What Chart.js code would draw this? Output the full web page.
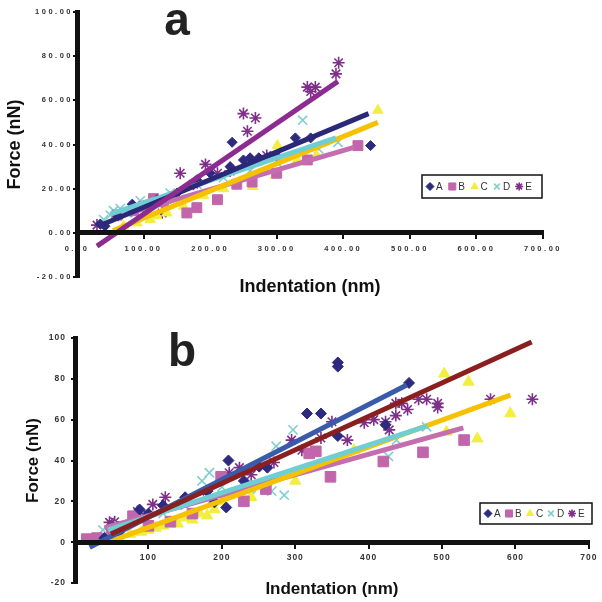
<!DOCTYPE html>
<html>
<head>
<meta charset="utf-8">
<script src="https://cdn.jsdelivr.net/npm/chart.js@4.4.0/dist/chart.umd.min.js"></script>
<style>
  html, body { margin: 0; padding: 0; background: #fff; }
  canvas { display: block; }
</style>
</head>
<body>
<canvas id="chartA" width="602" height="301"></canvas>
<canvas id="chartB" width="602" height="301"></canvas>
<script>
// ---- panel a : indentation (nm) / force (nN) ----
var aIndA = [35, 42, 60, 83, 100, 120, 150, 180, 200, 230, 233, 250, 260, 273, 286, 300, 328, 351, 441];
var aForA = [4, 3, 8, 13, 12, 15, 18, 24, 27, 30, 41, 33, 34, 34, 34, 35, 43, 43, 39.5];
var aIndB = [60, 85, 100, 115, 130, 165, 180, 211, 240, 263, 300, 346, 422];
var aForB = [8, 10, 12, 15.5, 14, 9, 11.4, 15, 22, 23, 27, 33, 39.5];
var aIndC = [70, 90, 110, 120, 135, 160, 190, 220, 264, 298, 301, 331, 360, 452];
var aForC = [3, 4.5, 6, 7.7, 9, 12, 17, 20, 21, 26, 39.5, 33, 35, 55.5];
var aIndD = [40, 50, 55, 65, 75, 95, 110, 140, 180, 220, 260, 300, 339, 363, 392];
var aForD = [6, 8, 10, 11, 9, 14.5, 13, 18, 22, 25, 28, 32, 51, 38, 41];
var aIndE = [30, 62, 82, 100, 115, 128, 140, 155, 175, 193, 211, 230, 250, 256, 268, 285, 346, 351, 358, 389, 393];
var aForE = [3.5, 8, 10, 12, 14, 9, 16, 27, 22, 31, 27, 28, 54, 46, 52, 35, 66, 64, 66, 72, 77];

// trend lines a (end points)
var aFitIndA = [40, 438], aFitForA = [4, 54];
var aFitIndB = [80, 416], aFitForB = [9, 38.7];
var aFitIndC = [54, 452], aFitForC = [1, 50];
var aFitIndD = [50, 389], aFitForD = [8.5, 43];
var aFitIndE = [30, 392], aFitForE = [-6, 68.6];

// ---- panel b ----
var bIndA = [40, 60, 88, 100, 120, 150, 180, 190, 206, 209, 230, 251, 262, 316, 335, 358, 358, 358, 423, 455];
var bForA = [2, 5, 16, 14, 18, 22, 25, 19.5, 17, 40, 30, 37, 36.5, 63, 63, 88, 86, 52, 57.5, 78];
var bIndB = [16, 30, 50, 79, 100, 130, 160, 199, 230, 260, 319, 328, 348, 420, 474, 530];
var bForB = [1.5, 2, 5, 12.7, 8, 10, 14, 32, 20, 26, 43.5, 44.5, 32, 39.5, 44, 50];
var bIndC = [60, 75, 90, 100, 110, 120, 130, 140, 150, 160, 170, 180, 190, 200, 240, 300, 380, 506, 503, 536, 548, 593];
var bForC = [2, 4, 5, 6, 7, 8, 10, 9, 12, 11, 14, 13, 16, 20, 22, 30, 45, 54, 82.5, 78.5, 50.7, 63];
var bIndD = [38, 60, 90, 120, 150, 173, 183, 200, 240, 268, 274, 285, 297, 427, 438, 479];
var bForD = [6, 8, 12, 14, 18, 30, 34, 27, 23, 25, 47, 23, 55, 42, 50, 56.5];
var bIndE = [47, 54, 85, 95, 106, 123, 150, 180, 210, 224, 240, 271, 295, 309, 335, 350, 371, 394, 407, 423, 428, 437, 437, 445, 453, 468, 479, 494, 494, 566, 623];
var bForE = [9.7, 10, 15, 12.7, 18.5, 22, 20, 25, 34, 36.5, 33, 39, 50, 45, 51, 59, 50, 58.5, 60, 59, 55, 62, 68, 68, 65, 70, 70, 68, 66, 70, 70];

var bFitIndA = [20, 452], bFitForA = [-2.5, 77];
var bFitIndB = [40, 529], bFitForB = [7, 56];
var bFitIndC = [49, 593], bFitForC = [0.5, 72];
var bFitIndD = [45, 480], bFitForD = [6, 57];
var bFitIndE = [49, 622], bFitForE = [4, 98];

var seriesNames = ['A', 'B', 'C', 'D', 'E'];
var xTicks = [0, 700, 100];
var yTicks = [-20, 100, 20];

var FONT = "'Liberation Sans', Arial, sans-serif";

function pts(xs, ys) {
    return xs.map(function(x, i) { return {x: x, y: ys[i]}; });
}

function scatterSet(label, xs, ys, style, color, radius) {
    var thin = (style === 'crossRot' || style === 'star');
    return {
        label: label,
        data: pts(xs, ys),
        showLine: false,
        pointStyle: style,
        pointRadius: radius,
        backgroundColor: color,
        borderColor: color,
        borderWidth: thin ? 1.6 : 1,
        order: 2
    };
}

function trendSet(xs, ys, color) {
    return {
        label: '',
        data: pts(xs, ys),
        showLine: true,
        pointRadius: 0,
        borderColor: color,
        backgroundColor: color,
        borderWidth: 5,
        order: 1
    };
}

// panel letter, legend box and spaced tick labels
var figurePlugin = {
    id: 'figure',
    afterDatasetsDraw: function(chart, args, opts) {
        chart.ctx.letterSpacing = opts.tickSpacing;
    },
    afterDraw: function(chart, args, opts) {
        var ctx = chart.ctx;
        ctx.letterSpacing = '0px';
        ctx.save();
        ctx.font = 'bold ' + opts.letterSize + 'px ' + FONT;
        ctx.fillStyle = '#222';
        ctx.textAlign = 'center';
        ctx.textBaseline = 'alphabetic';
        ctx.fillText(opts.letter, opts.letterX, opts.letterY);

        var lg = opts.legend;
        ctx.lineWidth = 1.5;
        ctx.strokeStyle = '#111';
        ctx.strokeRect(lg.x, lg.y, lg.w, lg.h);
        ctx.font = lg.fontSize + 'px ' + FONT;
        ctx.textAlign = 'left';
        ctx.textBaseline = 'middle';
        var sets = chart.data.datasets.filter(function(d) { return d.label; });
        sets.forEach(function(d, i) {
            var cx = lg.x + lg.first + i * lg.step;
            var cy = lg.y + lg.h / 2;
            ctx.fillStyle = d.backgroundColor;
            ctx.strokeStyle = d.borderColor;
            ctx.lineWidth = d.borderWidth;
            Chart.helpers.drawPoint(ctx, {
                pointStyle: d.pointStyle,
                radius: d.pointStyle === 'rect' ? lg.radius + 1 : lg.radius,
                rotation: 0,
                borderWidth: d.borderWidth
            }, cx, cy);
            ctx.fillStyle = '#333';
            ctx.fillText(d.label, cx + lg.radius + 2, cy + 0.5);
        });
        ctx.restore();
    }
};

function makeChart(id, cfg) {
    return new Chart(document.getElementById(id), {
        type: 'scatter',
        data: {datasets: cfg.datasets},
        options: {
            responsive: false,
            animation: false,
            layout: {padding: cfg.padding},
            plugins: {
                legend: {display: false},
                tooltip: {enabled: false},
                figure: cfg.figure
            },
            scales: {
                x: {
                    type: 'linear',
                    min: xTicks[0], max: xTicks[1],
                    position: {y: 0},
                    grid: {display: true, drawOnChartArea: false, drawTicks: true, tickLength: 4, color: '#111', lineWidth: 2, z: 0},
                    border: {display: true, color: '#111', width: 5, z: 2},
                    ticks: {
                        stepSize: xTicks[2], color: '#333', padding: cfg.xPad, z: 1,
                        font: {family: FONT, size: cfg.tickSize, weight: 'bold'},
                        maxRotation: 0, autoSkip: false,
                        callback: cfg.xFormat
                    },
                    title: {
                        display: true, text: 'Indentation (nm)', color: '#111',
                        font: {family: FONT, size: cfg.titleSize, weight: 'bold'},
                        padding: {top: cfg.xTitleTop, bottom: 0}
                    }
                },
                y: {
                    type: 'linear',
                    min: yTicks[0], max: yTicks[1],
                    grid: {display: true, drawOnChartArea: false, drawTicks: true, tickLength: 4, color: '#111', lineWidth: 2, z: 0},
                    border: {display: true, color: '#111', width: 5, z: 2},
                    ticks: {
                        stepSize: yTicks[2], color: '#333', padding: cfg.yPad, z: 1,
                        font: {family: FONT, size: cfg.tickSize, weight: 'bold'},
                        callback: cfg.yFormat
                    },
                    title: {
                        display: true, text: 'Force (nN)', color: '#111',
                        font: {family: FONT, size: cfg.titleSize, weight: 'bold'},
                        padding: {top: cfg.yTitleTop, bottom: 0}
                    },
                    afterFit: function(scale) { scale.width = cfg.yWidth; }
                }
            }
        },
        plugins: [figurePlugin]
    });
}

var cNavy = '#2D2A7F', cPink = '#C266AC', cYellow = '#F2EE3E', cCyan = '#80CFD0', cPurple = '#7E2F88';

makeChart('chartA', {
    padding: {top: 12, right: 59, bottom: 24, left: 0},
    yWidth: 77, tickSize: 7.5, titleSize: 18,
    xPad: 8, yPad: 0, xTitleTop: 14, yTitleTop: 4,
    xFormat: function(v) { return v.toFixed(2); },
    yFormat: function(v) { return v.toFixed(2); },
    figure: {
        tickSpacing: '2.5px', letter: 'a', letterSize: 46, letterX: 177, letterY: 35,
        legend: {x: 422, y: 175, w: 120, h: 23, first: 8, step: 22.3, radius: 4, fontSize: 10}
    },
    datasets: [
        trendSet(aFitIndE, aFitForE, '#8C2C91'),
        trendSet(aFitIndA, aFitForA, '#2B2877'),
        trendSet(aFitIndD, aFitForD, '#6FCDD4'),
        trendSet(aFitIndC, aFitForC, '#F6C200'),
        trendSet(aFitIndB, aFitForB, '#C46EB0'),
        scatterSet(seriesNames[0], aIndA, aForA, 'rectRot', cNavy, 5),
        scatterSet(seriesNames[1], aIndB, aForB, 'rect', cPink, 7),
        scatterSet(seriesNames[2], aIndC, aForC, 'triangle', cYellow, 6),
        scatterSet(seriesNames[3], aIndD, aForD, 'crossRot', cCyan, 6.5),
        scatterSet(seriesNames[4], aIndE, aForE, 'star', cPurple, 6)
    ]
});

makeChart('chartB', {
    padding: {top: 37, right: 12, bottom: 19, left: 0},
    yWidth: 75, tickSize: 8.5, titleSize: 17,
    xPad: 6, yPad: 5, xTitleTop: 11, yTitleTop: 23,
    xFormat: function(v) { return v === 0 ? '' : String(v); },
    yFormat: function(v) { return String(v); },
    figure: {
        tickSpacing: '1px', letter: 'b', letterSize: 46, letterX: 182, letterY: 65,
        legend: {x: 480, y: 202, w: 112, h: 21, first: 8, step: 21, radius: 4, fontSize: 10}
    },
    datasets: [
        trendSet(bFitIndE, bFitForE, '#8B1F1F'),
        trendSet(bFitIndA, bFitForA, '#3A5BA9'),
        trendSet(bFitIndD, bFitForD, '#6FCDD4'),
        trendSet(bFitIndC, bFitForC, '#F6C200'),
        trendSet(bFitIndB, bFitForB, '#C46EB0'),
        scatterSet(seriesNames[0], bIndA, bForA, 'rectRot', cNavy, 5.5),
        scatterSet(seriesNames[1], bIndB, bForB, 'rect', cPink, 7.5),
        scatterSet(seriesNames[2], bIndC, bForC, 'triangle', cYellow, 6.5),
        scatterSet(seriesNames[3], bIndD, bForD, 'crossRot', cCyan, 6.5),
        scatterSet(seriesNames[4], bIndE, bForE, 'star', cPurple, 6)
    ]
});
</script>
</body>
</html>
